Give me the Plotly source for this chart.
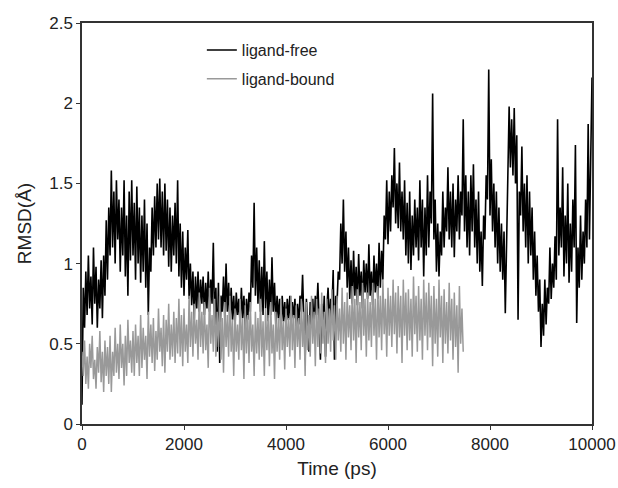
import plotly.graph_objects as go

# ---------------- data ----------------
step_ps = 25  # sampling interval of the hand-read series

ligand_free_rmsd = [
    0.12, 0.85, 0.60, 0.95, 0.68, 1.05, 0.72, 0.92, 0.62, 1.10,  # 0-225
    0.75, 0.98, 0.60, 0.90, 0.72, 1.02, 0.66, 1.05, 0.80, 1.27,  # 250-475
    0.90, 1.35, 1.05, 1.58, 1.10, 1.45, 1.00, 1.52, 1.15, 1.40,  # 500-725
    0.95, 1.35, 1.05, 1.52, 0.92, 1.30, 0.80, 1.45, 1.02, 1.52,  # 750-975
    1.05, 1.38, 0.90, 1.48, 1.00, 1.35, 0.88, 1.30, 0.95, 1.40,  # 1000-1225
    0.85, 1.25, 0.68, 1.10, 0.95, 1.35, 1.05, 1.42, 1.10, 1.50,  # 1250-1475
    1.15, 1.53, 1.10, 1.45, 1.05, 1.50, 1.08, 1.40, 0.98, 1.35,  # 1500-1725
    0.95, 1.30, 1.05, 1.38, 1.00, 1.52, 0.92, 1.25, 0.85, 1.20,  # 1750-1975
    0.80, 1.10, 0.90, 1.21, 0.78, 1.00, 0.74, 0.95, 0.65, 0.92,  # 2000-2225
    0.72, 0.95, 0.70, 0.90, 0.75, 0.92, 0.68, 0.88, 0.72, 0.95,  # 2250-2475
    0.70, 0.90, 0.75, 1.13, 0.62, 0.85, 0.45, 0.88, 0.38, 0.80,  # 2500-2725
    0.70, 0.92, 0.66, 1.00, 0.70, 0.88, 0.62, 0.85, 0.65, 0.80,  # 2750-2975
    0.60, 0.82, 0.68, 0.78, 0.62, 0.85, 0.66, 0.80, 0.58, 0.78,  # 3000-3225
    0.65, 0.82, 0.70, 1.05, 0.85, 1.38, 0.80, 1.10, 0.75, 1.02,  # 3250-3475
    0.70, 0.98, 0.68, 1.14, 0.72, 0.95, 0.64, 0.90, 0.68, 1.04,  # 3500-3725
    0.70, 0.88, 0.62, 0.80, 0.66, 0.78, 0.60, 0.80, 0.64, 0.76,  # 3750-3975
    0.60, 0.78, 0.65, 0.80, 0.62, 0.76, 0.66, 0.78, 0.58, 0.75,  # 4000-4225
    0.62, 0.80, 0.70, 0.93, 0.65, 0.40, 0.78, 0.60, 0.45, 0.76,  # 4250-4475
    0.62, 0.78, 0.60, 0.80, 0.68, 0.88, 0.62, 0.40, 0.75, 0.60,  # 4500-4725
    0.80, 0.42, 0.72, 0.85, 0.62, 0.78, 0.70, 0.96, 0.40, 0.80,  # 4750-4975
    0.75, 0.95, 0.90, 1.25, 1.00, 1.40, 0.95, 1.20, 0.85, 1.10,  # 5000-5225
    0.78, 1.02, 0.75, 1.08, 0.80, 0.98, 0.74, 1.06, 0.80, 0.95,  # 5250-5475
    0.72, 1.02, 0.82, 1.00, 0.78, 1.12, 0.80, 0.95, 0.74, 1.05,  # 5500-5725
    0.82, 1.00, 0.78, 1.13, 0.85, 1.08, 0.90, 1.30, 1.15, 1.52,  # 5750-5975
    1.12, 1.45, 1.20, 1.55, 1.35, 1.72, 1.25, 1.50, 1.22, 1.63,  # 6000-6225
    1.20, 1.45, 1.15, 1.52, 1.05, 1.38, 1.00, 1.45, 0.96, 1.30,  # 6250-6475
    1.05, 1.40, 1.10, 1.35, 1.02, 1.52, 1.10, 1.40, 0.92, 1.35,  # 6500-6725
    1.05, 1.55, 1.10, 1.45, 1.25, 2.06, 1.15, 1.40, 0.95, 1.25,  # 6750-6975
    0.92, 1.20, 1.05, 1.45, 1.10, 1.35, 1.20, 1.60, 1.15, 1.45,  # 7000-7225
    1.10, 1.50, 1.04, 1.40, 1.20, 1.55, 1.15, 1.45, 1.30, 1.90,  # 7250-7475
    1.20, 1.55, 1.10, 1.45, 1.05, 1.55, 1.20, 1.62, 1.10, 1.40,  # 7500-7725
    1.00, 1.45, 0.95, 1.20, 0.86, 1.30, 1.15, 1.55, 1.40, 2.21,  # 7750-7975
    1.30, 1.65, 1.20, 1.50, 1.10, 1.45, 1.00, 1.35, 0.95, 1.25,  # 8000-8225
    0.90, 1.20, 0.69, 1.10, 1.55, 1.98, 1.60, 1.90, 1.55, 1.97,  # 8250-8475
    1.50, 1.80, 0.65, 1.45, 1.30, 1.73, 1.20, 1.50, 1.10, 1.55,  # 8500-8725
    1.00, 1.45, 1.05, 1.35, 0.90, 1.20, 0.80, 1.05, 0.70, 0.90,  # 8750-8975
    0.48, 0.75, 0.55, 0.90, 0.62, 0.85, 0.75, 1.10, 0.78, 1.00,  # 9000-9225
    0.85, 1.17, 0.90, 1.90, 1.05, 1.35, 1.10, 1.60, 0.92, 1.30,  # 9250-9475
    1.00, 1.50, 0.88, 1.25, 0.95, 1.40, 1.10, 1.74, 0.63, 1.10,  # 9500-9725
    0.85, 1.30, 0.90, 1.20, 1.00, 1.40, 1.10, 1.87, 1.15, 1.55,  # 9750-9975
    2.16,                                                        # 10000
]

ligand_bound_rmsd = [
    0.45, 0.30, 0.52, 0.25, 0.42, 0.22, 0.50, 0.35, 0.55, 0.28,  # 0-225
    0.40, 0.22, 0.48, 0.32, 0.58, 0.26, 0.45, 0.20, 0.52, 0.30,  # 250-475
    0.48, 0.25, 0.55, 0.20, 0.45, 0.30, 0.60, 0.32, 0.50, 0.28,  # 500-725
    0.62, 0.35, 0.50, 0.24, 0.55, 0.30, 0.65, 0.38, 0.52, 0.32,  # 750-975
    0.58, 0.30, 0.62, 0.38, 0.55, 0.30, 0.68, 0.35, 0.60, 0.40,  # 1000-1225
    0.55, 0.28, 0.70, 0.42, 0.62, 0.38, 0.66, 0.33, 0.58, 0.40,  # 1250-1475
    0.72, 0.45, 0.60, 0.36, 0.68, 0.32, 0.65, 0.45, 0.75, 0.40,  # 1500-1725
    0.62, 0.42, 0.70, 0.38, 0.66, 0.44, 0.78, 0.42, 0.68, 0.36,  # 1750-1975
    0.72, 0.45, 0.62, 0.38, 0.80, 0.48, 0.70, 0.42, 0.75, 0.50,  # 2000-2225
    0.65, 0.40, 0.82, 0.48, 0.70, 0.44, 0.76, 0.46, 0.62, 0.35,  # 2250-2475
    0.85, 0.50, 0.68, 0.45, 0.78, 0.42, 0.70, 0.48, 0.80, 0.40,  # 2500-2725
    0.66, 0.32, 0.76, 0.48, 0.68, 0.42, 0.80, 0.45, 0.65, 0.30,  # 2750-2975
    0.72, 0.45, 0.62, 0.40, 0.78, 0.46, 0.66, 0.28, 0.74, 0.44,  # 3000-3225
    0.68, 0.38, 0.76, 0.45, 0.62, 0.30, 0.70, 0.44, 0.66, 0.40,  # 3250-3475
    0.78, 0.42, 0.64, 0.30, 0.72, 0.46, 0.68, 0.36, 0.76, 0.44,  # 3500-3725
    0.62, 0.28, 0.70, 0.45, 0.66, 0.40, 0.78, 0.46, 0.64, 0.34,  # 3750-3975
    0.72, 0.48, 0.66, 0.42, 0.80, 0.46, 0.68, 0.35, 0.74, 0.48,  # 4000-4225
    0.66, 0.40, 0.78, 0.48, 0.70, 0.30, 0.76, 0.46, 0.68, 0.42,  # 4250-4475
    0.80, 0.50, 0.70, 0.36, 0.78, 0.48, 0.72, 0.44, 0.82, 0.50,  # 4500-4725
    0.70, 0.38, 0.78, 0.50, 0.72, 0.45, 0.84, 0.52, 0.74, 0.40,  # 4750-4975
    0.80, 0.52, 0.72, 0.45, 0.85, 0.50, 0.76, 0.40, 0.82, 0.54,  # 5000-5225
    0.74, 0.46, 0.86, 0.52, 0.78, 0.38, 0.84, 0.54, 0.76, 0.46,  # 5250-5475
    0.88, 0.55, 0.78, 0.42, 0.82, 0.52, 0.76, 0.48, 0.88, 0.55,  # 5500-5725
    0.78, 0.40, 0.86, 0.54, 0.80, 0.46, 0.90, 0.56, 0.78, 0.42,  # 5750-5975
    0.85, 0.55, 0.80, 0.48, 0.90, 0.56, 0.82, 0.44, 0.86, 0.54,  # 6000-6225
    0.80, 0.38, 0.90, 0.55, 0.82, 0.46, 0.84, 0.52, 0.78, 0.42,  # 6250-6475
    0.92, 0.56, 0.80, 0.45, 0.86, 0.52, 0.78, 0.40, 0.90, 0.55,  # 6500-6725
    0.82, 0.46, 0.88, 0.54, 0.80, 0.36, 0.86, 0.50, 0.78, 0.42,  # 6750-6975
    0.90, 0.54, 0.80, 0.38, 0.84, 0.50, 0.76, 0.44, 0.88, 0.52,  # 7000-7225
    0.78, 0.40, 0.82, 0.48, 0.74, 0.32, 0.86, 0.50, 0.72, 0.45,  # 7250-7475
]

free_time = [i * step_ps for i in range(len(ligand_free_rmsd))]
bound_time = [i * step_ps for i in range(len(ligand_bound_rmsd))]

series_names = ["ligand-free", "ligand-bound"]

x_ticks = [0, 2000, 4000, 6000, 8000, 10000]
x_tick_labels = ["0", "2000", "4000", "6000", "8000", "10000"]
y_ticks = [0, 0.5, 1, 1.5, 2, 2.5]
y_tick_labels = ["0", "0.5", "1", "1.5", "2", "2.5"]

# ---------------- figure ----------------
FONT = "Liberation Sans, Arial, Helvetica, sans-serif"

fig = go.Figure()
fig.add_trace(go.Scatter(
    x=free_time, y=ligand_free_rmsd, mode="lines", name=series_names[0],
    line=dict(color="#000000", width=1.6), legendgroup="a",
))
fig.add_trace(go.Scatter(
    x=bound_time, y=ligand_bound_rmsd, mode="lines", name=series_names[1],
    line=dict(color="#999999", width=1.5), legendgroup="b",
))

axis_common = dict(
    showline=True, linecolor="#333333", linewidth=1.5, mirror=True,
    ticks="outside", ticklen=4, tickwidth=1.2, tickcolor="#333333",
    showgrid=False, zeroline=False, automargin=False,
    tickfont=dict(family=FONT, size=17, color="#222222"),
)

fig.update_layout(
    width=618, height=488,
    margin=dict(l=82, r=26, t=23, b=64),
    paper_bgcolor="white", plot_bgcolor="white",
    font=dict(family=FONT, color="#222222"),
    xaxis=dict(
        range=[0, 10000], tickvals=x_ticks, ticktext=x_tick_labels,
        title=dict(text="Time (ps)", font=dict(family=FONT, size=19), standoff=9),
        **axis_common,
    ),
    yaxis=dict(
        range=[0, 2.5], tickvals=y_ticks, ticktext=y_tick_labels,
        title=dict(text="RMSD(Å)", font=dict(family=FONT, size=19), standoff=13),
        **axis_common,
    ),
    legend=dict(
        x=0.235, y=0.975, xanchor="left", yanchor="top",
        bgcolor="rgba(0,0,0,0)", borderwidth=0,
        font=dict(family=FONT, size=16, color="#222222"),
        tracegroupgap=5,
    ),
    showlegend=True,
)

# remove the browser's default 8 px body margin so the figure fills the window
fig.write_html(
    "out.html",
    config={"displayModeBar": False},
    post_script="document.body.style.margin='0';document.body.style.overflow='hidden';",
)
